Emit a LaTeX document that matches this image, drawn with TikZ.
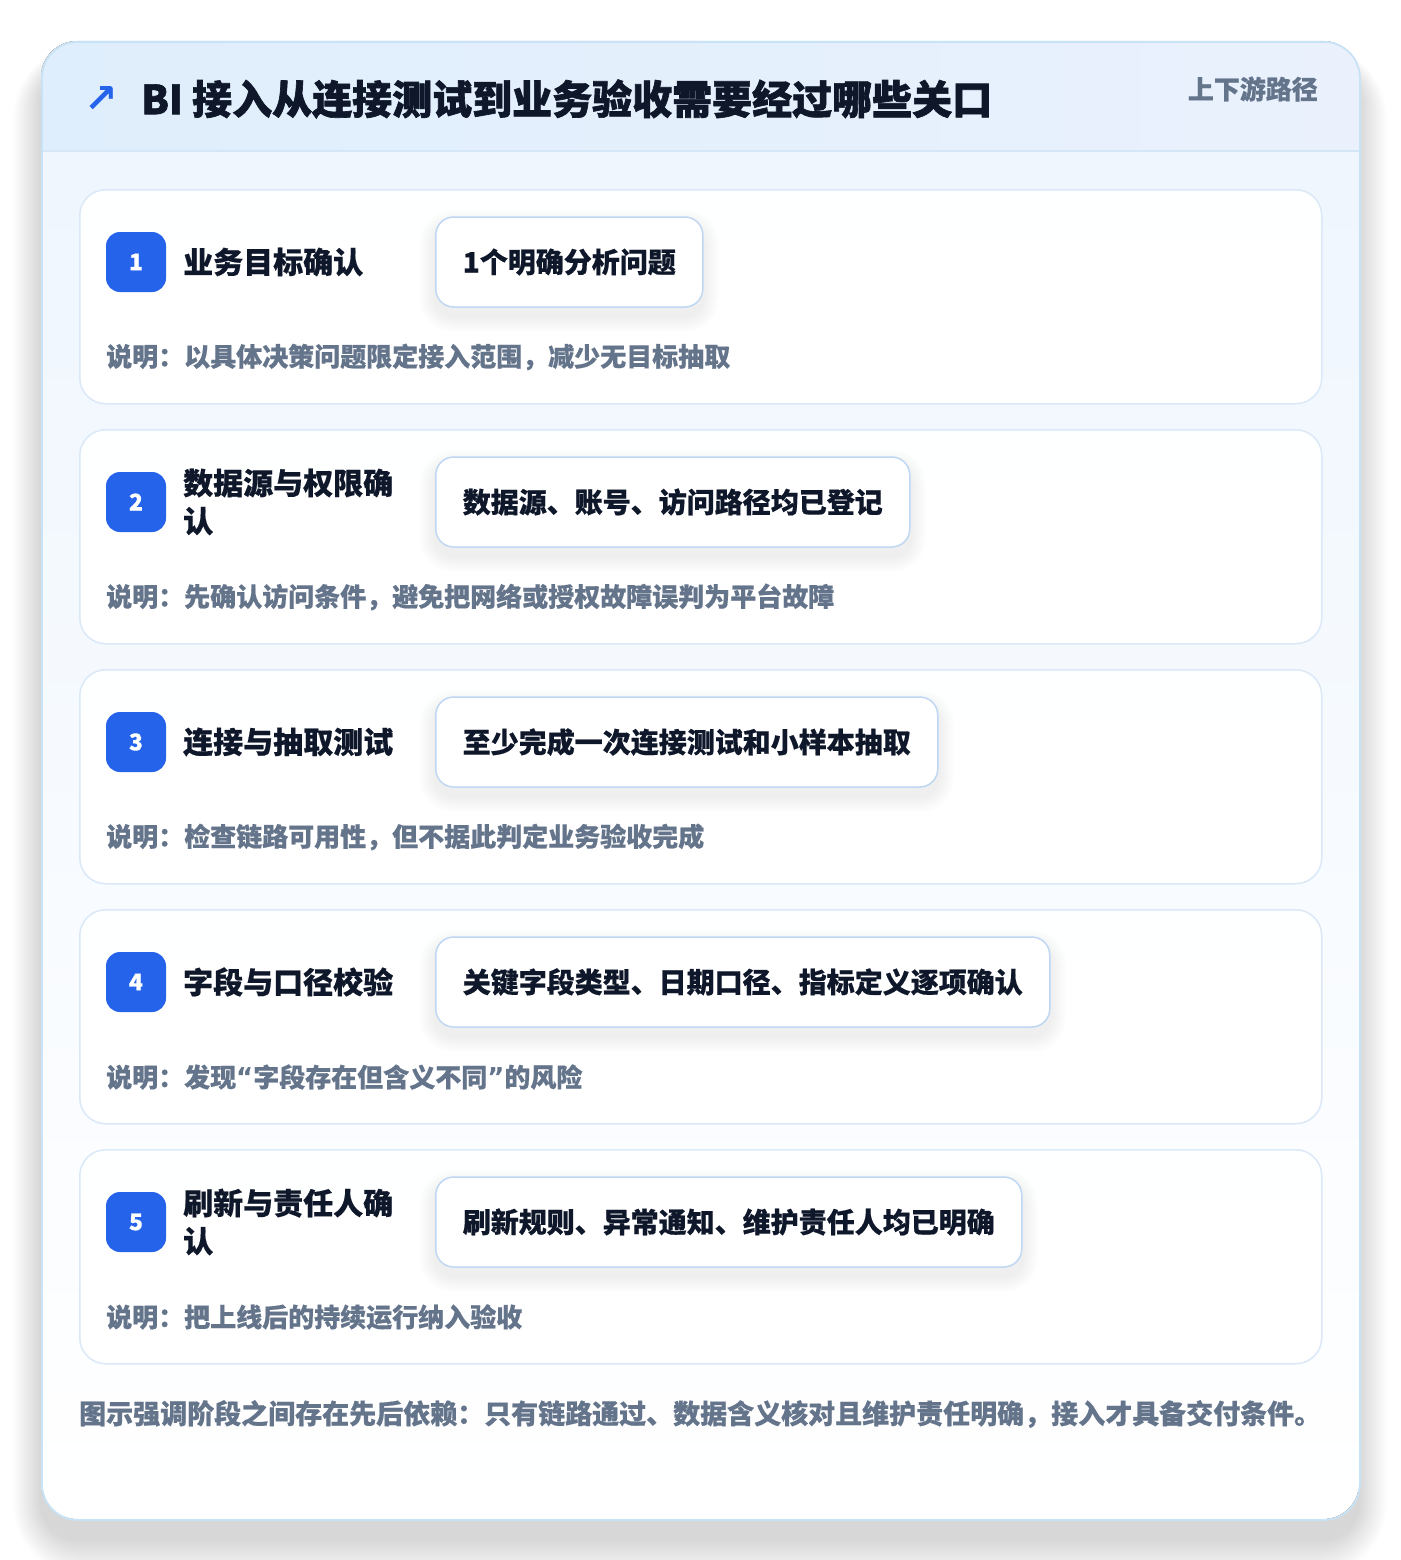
\documentclass[tikz,border=0pt]{standalone}
\usepackage{fontspec}
\setmainfont{Noto Sans CJK SC}[BoldFeatures={FakeBold=0.5}]
\newfontfamily\heavyfont{Noto Sans CJK SC}[BoldFeatures={FakeBold=1.6}]
\newfontfamily\symfont{DejaVu Sans}
\pgfdeclarelayer{panellayer}
\pgfdeclarelayer{cardlayer}
\pgfdeclarelayer{shadowlayer}
\pgfsetlayers{panellayer,cardlayer,shadowlayer,main}
\definecolor{badgeblue}{HTML}{2563EB}
\definecolor{ink}{HTML}{0F172A}
\definecolor{muted}{HTML}{64748B}
\definecolor{outerline}{HTML}{C8E2F6}
\definecolor{cardline}{HTML}{DAE8F7}
\definecolor{boxline}{HTML}{BFD7F3}
\definecolor{hdrL}{HTML}{DFEEFC}
\definecolor{hdrR}{HTML}{EAF1FD}
\definecolor{bodytop}{HTML}{EFF6FE}
\definecolor{hdrrule}{HTML}{D5E6F7}
\definecolor{shadowcol}{HTML}{1E3A5F}
\tikzset{
  card/.style={draw=cardline, line width=1.5pt, rounded corners=26pt, top color=white!96!bodytop, bottom color=white,
    minimum width=1242pt, minimum height=214pt, inner sep=0pt},
  badge/.style={fill=badgeblue, rounded corners=14pt, minimum width=60pt, minimum height=60pt, inner sep=0pt,
    text=white, font=\fontsize{23}{26}\selectfont\bfseries},
  steptitle/.style={text=ink, font=\fontsize{30}{38}\selectfont\bfseries, align=left, inner sep=0pt},
  keybox/.style={draw=boxline, line width=1.5pt, fill=white, rounded corners=18pt, minimum height=90pt,
    inner xsep=27pt, text=ink, font=\fontsize{28}{32}\selectfont\bfseries},
  desc/.style={text=muted, font=\fontsize{26}{30}\selectfont\bfseries, inner sep=0pt}
}
% soft shadow under a named node
\newcommand\softshadow[4]{% node, corner radius, y offset, steps
  \begin{pgfonlayer}{shadowlayer}
  \foreach \i in {1,...,#4}{
    \fill[shadowcol, fill opacity=0.0045, rounded corners={#2+\i}]
      ([xshift=-\i, yshift={-#3+\i}]#1.north west) rectangle ([xshift=\i, yshift={-#3-\i}]#1.south east);
  }
  \end{pgfonlayer}
}
\newcommand\mystep[5]{%
  \begin{pgfonlayer}{cardlayer}
  \node[card, anchor=north west] (card#1) at (79,#2) {};
  \end{pgfonlayer}
  \node[badge] (badge#1) at (136,{#2+73}) {#1};
  \node[steptitle, anchor=west] (title#1) at (183,{#2+73}) {#3};
  \node[keybox, anchor=west] (box#1) at (435,{#2+73}) {#4};
  \softshadow{box#1}{18pt}{9pt}{16}
  \node[desc, anchor=west] (desc#1) at (106,{#2+168}) {#5};
}
\begin{document}
\begin{tikzpicture}[x=1pt,y=-1pt]
\useasboundingbox (0,0) rectangle (1400,1560);
\begin{pgfonlayer}{panellayer}
\fill[white] (0,0) rectangle (1400,1560);
% outer panel shadow
\foreach \i in {1,...,40}{
  \fill[black, fill opacity=0.0022, rounded corners={36pt+\i}]
    ({41-0.7*\i},{41-0.6*\i+26}) rectangle ({1359+0.7*\i},{1519+\i+20});
}
\fill[white, rounded corners=36pt] (41,41) rectangle (1359,1519);
\begin{scope}
  \clip[rounded corners=36pt] (41,41) rectangle (1359,1519);
  \fill[top color=bodytop, bottom color=white] (41,151) rectangle (1359,1519);
  \fill[left color=hdrL, right color=hdrR] (41,41) rectangle (1359,151);
\end{scope}
\draw[hdrrule, line width=1.5pt] (41,151) -- (1359,151);
\node[draw=outerline, line width=1.8pt, rounded corners=36pt, minimum width=1318pt, minimum height=1478pt, anchor=north west, inner sep=0pt] (panel) at (41,41) {};
\end{pgfonlayer}
% header
\node[text=badgeblue, font=\symfont\fontsize{40}{44}\selectfont\bfseries] (arrow) at (101,100) {↗};
\node[anchor=west, text=ink, font=\heavyfont\fontsize{40}{46}\selectfont\bfseries, inner sep=0pt] (title) at (141,99) {BI 接入从连接测试到业务验收需要经过哪些关口};
\node[anchor=east, text=muted, font=\fontsize{26}{30}\selectfont\bfseries, inner sep=0pt] (tag) at (1318,89) {上下游路径};
% steps
\mystep{1}{189}{业务目标确认}{1个明确分析问题}{说明：以具体决策问题限定接入范围，减少无目标抽取}
\mystep{2}{429}{数据源与权限确\\认}{数据源、账号、访问路径均已登记}{说明：先确认访问条件，避免把网络或授权故障误判为平台故障}
\mystep{3}{669}{连接与抽取测试}{至少完成一次连接测试和小样本抽取}{说明：检查链路可用性，但不据此判定业务验收完成}
\mystep{4}{909}{字段与口径校验}{关键字段类型、日期口径、指标定义逐项确认}{说明：发现{\symfont “}字段存在但含义不同{\symfont ”}的风险}
\mystep{5}{1149}{刷新与责任人确\\认}{刷新规则、异常通知、维护责任人均已明确}{说明：把上线后的持续运行纳入验收}
% footer
\node[desc, anchor=west, font=\fontsize{27}{30}\selectfont\bfseries] (footer) at (79,1414) {图示强调阶段之间存在先后依赖：只有链路通过、数据含义核对且维护责任明确，接入才具备交付条件。};
\end{tikzpicture}
\end{document}
